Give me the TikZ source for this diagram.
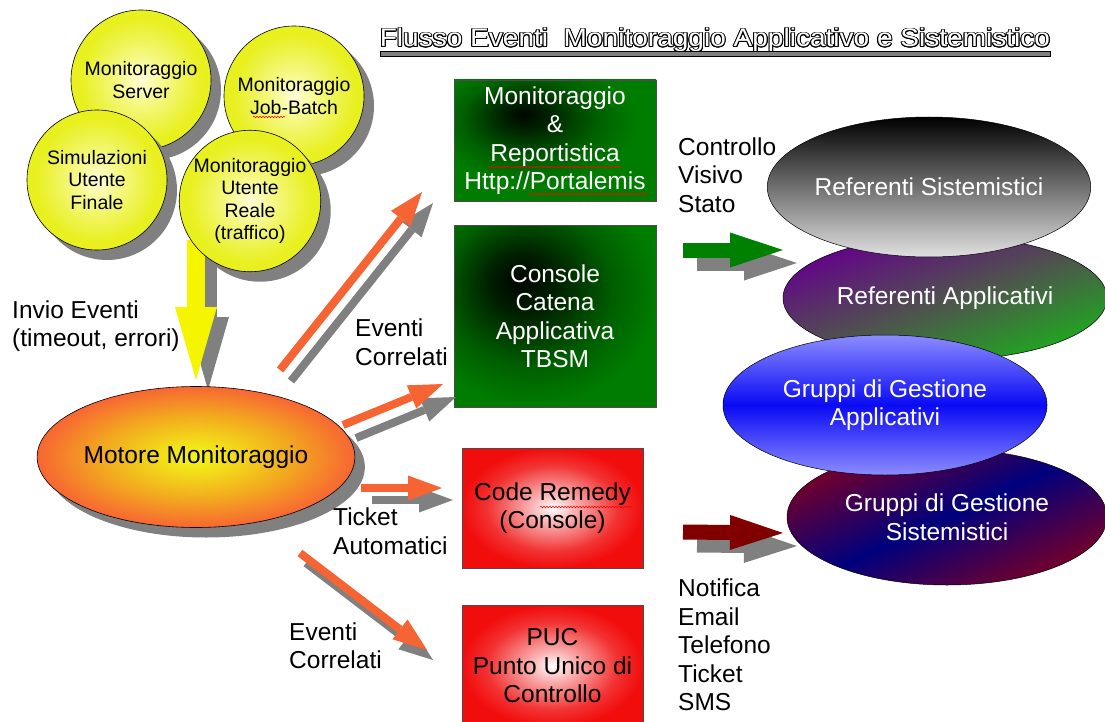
\documentclass[tikz,border=0pt]{standalone}
\usepackage{fontspec}
\setmainfont{Liberation Sans}
\usepackage{contour}
\usetikzlibrary{shapes.geometric,shadows,arrows.meta,decorations.pathmorphing}

\definecolor{ballyellow}{RGB}{230,238,40}
\definecolor{boxgreen}{RGB}{0,125,0}
\definecolor{evorange}{RGB}{245,100,50}
\definecolor{shadowgray}{RGB}{128,128,128}
\definecolor{okgreen}{RGB}{0,128,0}
\definecolor{alertred}{RGB}{128,0,0}
\definecolor{arrowyellow}{RGB}{245,245,0}
\definecolor{refpurple}{RGB}{100,0,140}
\definecolor{refgray}{RGB}{80,80,80}
\definecolor{refgreen}{RGB}{30,170,30}
\definecolor{grlight}{RGB}{140,140,255}
\definecolor{grblue}{RGB}{10,10,245}
\definecolor{grmaroon}{RGB}{120,0,40}
\definecolor{grnavy}{RGB}{0,0,125}

\pgfdeclareradialshading{ballglow}{\pgfpoint{0bp}{0bp}}{rgb(0bp)=(1,1,0.85); rgb(9bp)=(0.96,0.97,0.5); rgb(22bp)=(0.91,0.94,0.12); rgb(50bp)=(0.91,0.94,0.12)}
\pgfdeclareradialshading{engineglow}{\pgfpoint{0bp}{0bp}}{rgb(0bp)=(0.95,0.96,0.1); rgb(5bp)=(0.95,0.88,0.1); rgb(15bp)=(0.95,0.66,0.12); rgb(25bp)=(0.97,0.4,0.2); rgb(50bp)=(0.97,0.4,0.2)}
\pgfdeclareradialshading{redglow}{\pgfpoint{0bp}{0bp}}{rgb(0bp)=(1,1,1); rgb(6bp)=(0.98,0.7,0.7); rgb(18bp)=(0.95,0.2,0.2); rgb(25bp)=(0.95,0.05,0.05); rgb(50bp)=(0.95,0.05,0.05)}
\pgfdeclareradialshading{portalglow}{\pgfpoint{-8bp}{11bp}}{rgb(0bp)=(0,0.02,0); rgb(6bp)=(0,0.14,0); rgb(17bp)=(0,0.38,0); rgb(26bp)=(0,0.49,0); rgb(80bp)=(0,0.49,0)}
\pgfdeclareradialshading{tbsmglow}{\pgfpoint{-9bp}{10bp}}{rgb(0bp)=(0,0.02,0); rgb(8bp)=(0,0.12,0); rgb(21bp)=(0,0.37,0); rgb(31bp)=(0,0.49,0); rgb(80bp)=(0,0.49,0)}

\contourlength{0.9pt}

\tikzset{
  bigfont/.style={font=\fontsize{24.5}{28.5}\selectfont},
  ball/.style={circle, draw=black, line width=0.6pt, minimum size=140pt, inner sep=0pt,
    align=center, shading=ballglow, shade, font=\fontsize{19.5}{22.5}\selectfont,
    drop shadow={shadow xshift=10pt, shadow yshift=-10pt, fill=shadowgray, opacity=1}},
  engine/.style={ellipse, draw=black, line width=0.6pt, minimum width=282pt, minimum height=141pt,
    inner sep=0pt, shading=engineglow, shade, bigfont,
    drop shadow={shadow xshift=10pt, shadow yshift=-10pt, fill=shadowgray, opacity=1}},
  greenbox/.style={rectangle, draw=black!70, line width=0.5pt, shade, text=white,
    align=center, inner sep=0pt, minimum width=202pt, bigfont},
  redbox/.style={rectangle, draw=black!70, line width=0.5pt, shading=redglow, shade,
    align=center, inner sep=0pt, minimum width=181pt, bigfont},
  refnode/.style={ellipse, draw=black, line width=0.5pt, inner sep=0pt, text=white,
    align=center, bigfont},
  label/.style={anchor=west, align=left, inner sep=0pt, bigfont},
  evarrow/.style={draw=evorange, line width=8pt, -{Triangle[length=34pt,width=25pt,line width=0pt]}},
  fatarrow/.style={line width=15pt, -{Triangle[length=53pt,width=35pt,line width=0pt]}},
  yarrow/.style={draw=arrowyellow, line width=18pt, -{Triangle[length=73pt,width=42pt,line width=0pt]}},
  spellmark/.style={draw=red, line width=0.5pt, decorate,
    decoration={snake, amplitude=0.8pt, segment length=3pt}}
}

\begin{document}
\begin{tikzpicture}[x=1pt,y=-1pt]
\useasboundingbox (0,0) rectangle (1105,722);

% title
\node[anchor=base, inner sep=0pt, text=white, font=\fontsize{25.5}{30}\selectfont] (title) at (715,47)
  {\scalebox{1.1}[1]{\contour{black}{Flusso Eventi~ Monitoraggio Applicativo e Sistemistico}}};
\draw[fill=shadowgray, draw=black, line width=0.6pt] (380,51) rectangle (1050,56);

% invio eventi
\coordinate (ytop) at (196,240);
\coordinate (ytip) at (196,380);
\begin{scope}[transform canvas={shift={(12pt,-10pt)}}]
  \draw[yarrow, draw=shadowgray] (ytop) -- (ytip);
\end{scope}
\draw[yarrow] (ytop) -- (ytip);

% sorgenti
\node[ball] (server) at (141,80) {Monitoraggio\\Server};
\node[ball] (jobbatch) at (294,96) {Monitoraggio\\Job-Batch};
\node[ball] (simul) at (97,180) {Simulazioni\\Utente\\Finale};
\node[ball] (reale) at (250,201) {Monitoraggio\\Utente\\Reale\\(traffico)};
\draw[spellmark] (253,117) -- (285,117);

\node[label] (invio) at (12,326) {Invio Eventi\\(timeout, errori)};

% motore
\node[engine] (motore) at (196,457) {Motore Monitoraggio};

% console
\node[greenbox, minimum height=121pt, shading=portalglow] (portal) at (555,140.5)
  {Monitoraggio\\\&\\Reportistica\\Http://Portalemis};
\node[greenbox, minimum height=182pt, shading=tbsmglow] (tbsm) at (555,316)
  {Console\\Catena\\Applicativa\\TBSM};
\node[redbox, minimum height=120pt] (remedy) at (552.5,508) {Code Remedy\\(Console)};
\node[redbox, minimum height=122pt] (puc) at (552.5,666) {PUC\\Punto Unico di\\Controllo};
\draw[spellmark] (488,167) -- (622,167);
\draw[spellmark] (529,194) -- (648,194);
\draw[spellmark] (540,507) -- (633,507);

% frecce eventi
\coordinate (c1a) at (280,370); \coordinate (c1b) at (422,192);
\coordinate (c2a) at (343,425); \coordinate (c2b) at (443,384);
\coordinate (t1a) at (361,488); \coordinate (t1b) at (442,488);
\coordinate (c3a) at (300,553); \coordinate (c3b) at (427,650);
\foreach \a/\b/\dx/\dy in {c1a/c1b/11/11, c2a/c2b/13/13, t1a/t1b/11/12, c3a/c3b/6/10} {
  \begin{scope}[transform canvas={shift={(\dx pt,-\dy pt)}}]
    \draw[evarrow, draw=shadowgray] (\a) -- (\b);
  \end{scope}
  \draw[evarrow] (\a) -- (\b);
}

\node[label] (corr1) at (355,342) {Eventi\\Correlati};
\node[label] (ticket) at (333,531) {Ticket\\Automatici};
\node[label] (corr2) at (289,645.5) {Eventi\\Correlati};

% referenti
\node[refnode, minimum width=324pt, minimum height=124pt, top color=refpurple,
  bottom color=refgreen, middle color=refgray, shading angle=20] (refapp) at (945,298)
  {Referenti Applicativi};
\node[refnode, minimum width=320pt, minimum height=136pt, top color=grmaroon,
  bottom color=grmaroon, middle color=grnavy, shading angle=25] (grsist) at (947,517)
  {Gruppi di Gestione\\Sistemistici};
\node[refnode, minimum width=322pt, minimum height=140pt, top color=black,
  bottom color=white!88!black] (refsist) at (929,187) {Referenti Sistemistici};
\node[refnode, minimum width=324pt, minimum height=140pt, top color=grlight,
  bottom color=grlight, middle color=grblue] (grapp) at (885,405)
  {Gruppi di Gestione\\Applicativi};

% notifiche
\coordinate (ok1) at (683,250); \coordinate (ok2) at (783,250);
\coordinate (al1) at (683,532); \coordinate (al2) at (783,533);
\begin{scope}[transform canvas={shift={(14pt,-13pt)}}]
  \draw[fatarrow, draw=shadowgray] (ok1) -- (ok2);
  \draw[fatarrow, draw=shadowgray] (al1) -- (al2);
\end{scope}
\draw[fatarrow, draw=okgreen] (ok1) -- (ok2);
\draw[fatarrow, draw=alertred] (al1) -- (al2);

\node[label] (visivo) at (678,175) {Controllo\\Visivo\\Stato};
\node[label] (notifica) at (678,645) {Notifica\\Email\\Telefono\\Ticket\\SMS};

\end{tikzpicture}
\end{document}
